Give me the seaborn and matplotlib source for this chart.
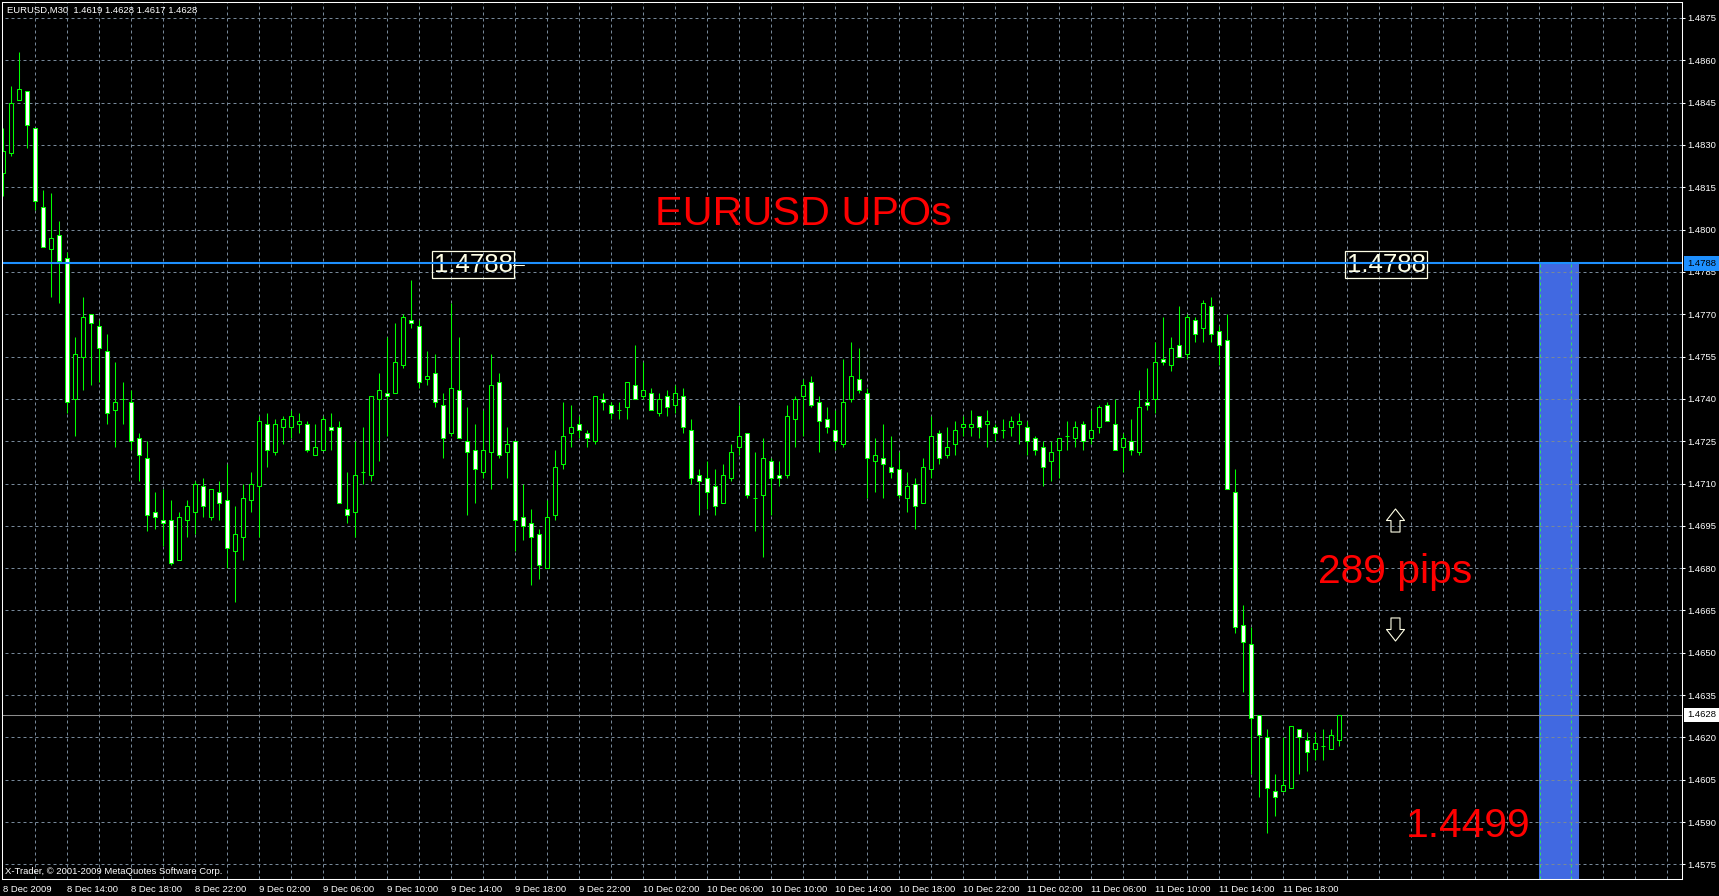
import matplotlib
matplotlib.use("Agg")
import matplotlib.pyplot as plt
import matplotlib.transforms as mtransforms
from matplotlib.path import Path
from matplotlib.patches import Rectangle
import numpy as np
import pandas as pd
import seaborn as sns

# EURUSD M30 candles, 8 Dec 2009 10:00 -> 11 Dec 2009 21:30
opens = [1.4820, 1.4827, 1.4846, 1.4849, 1.4836, 1.4808, 1.4793, 1.4798, 1.4790, 1.4740,
         1.4755, 1.4770, 1.4766, 1.4757, 1.4736, 1.4740, 1.4739, 1.4726, 1.4719, 1.4700,
         1.4697, 1.4697, 1.4683, 1.4697, 1.4700, 1.4709, 1.4698, 1.4707, 1.4704, 1.4686,
         1.4691, 1.4704, 1.4709, 1.4731, 1.4721, 1.4730, 1.4730, 1.4731, 1.4731, 1.4720,
         1.4722, 1.4730, 1.4730, 1.4701, 1.4700, 1.4714, 1.4713, 1.4740, 1.4742, 1.4742,
         1.4752, 1.4768, 1.4766, 1.4747, 1.4749, 1.4738, 1.4728, 1.4743, 1.4725, 1.4722,
         1.4714, 1.4721, 1.4746, 1.4721, 1.4725, 1.4698, 1.4696, 1.4692, 1.4680, 1.4699,
         1.4717, 1.4728, 1.4731, 1.4728, 1.4725, 1.4740, 1.4738, 1.4736, 1.4737, 1.4745,
         1.4741, 1.4742, 1.4735, 1.4741, 1.4738, 1.4741, 1.4729, 1.4713, 1.4712, 1.4709,
         1.4703, 1.4712, 1.4723, 1.4728, 1.4705, 1.4706, 1.4718, 1.4713, 1.4713, 1.4733,
         1.4741, 1.4746, 1.4739, 1.4733, 1.4729, 1.4724, 1.4740, 1.4747, 1.4742, 1.4718,
         1.4719, 1.4716, 1.4715, 1.4705, 1.4710, 1.4703, 1.4715, 1.4728, 1.4720, 1.4724,
         1.4730, 1.4730, 1.4734, 1.4731, 1.4730, 1.4729, 1.4730, 1.4731, 1.4730, 1.4726,
         1.4723, 1.4718, 1.4722, 1.4727, 1.4726, 1.4731, 1.4726, 1.4730, 1.4738, 1.4731,
         1.4723, 1.4725, 1.4721, 1.4739, 1.4740, 1.4754, 1.4752, 1.4759, 1.4756, 1.4768,
         1.4765, 1.4773, 1.4764, 1.4761, 1.4707, 1.4660, 1.4653, 1.4628, 1.4620, 1.4601,
         1.4601, 1.4602, 1.4623, 1.4619, 1.4616, 1.4617, 1.4616, 1.4619]
highs = [1.4836, 1.4851, 1.4863, 1.4849, 1.4836, 1.4814, 1.4813, 1.4803, 1.4792, 1.4762,
         1.4776, 1.4770, 1.4768, 1.4763, 1.4753, 1.4746, 1.4743, 1.4728, 1.4725, 1.4707,
         1.4708, 1.4704, 1.4700, 1.4704, 1.4711, 1.4712, 1.4708, 1.4711, 1.4717, 1.4702,
         1.4710, 1.4714, 1.4734, 1.4735, 1.4733, 1.4734, 1.4736, 1.4735, 1.4732, 1.4731,
         1.4734, 1.4735, 1.4732, 1.4714, 1.4725, 1.4730, 1.4741, 1.4749, 1.4762, 1.4767,
         1.4770, 1.4782, 1.4768, 1.4757, 1.4756, 1.4742, 1.4774, 1.4762, 1.4737, 1.4731,
         1.4736, 1.4756, 1.4749, 1.4730, 1.4725, 1.4710, 1.4701, 1.4694, 1.4704, 1.4722,
         1.4739, 1.4738, 1.4734, 1.4729, 1.4741, 1.4742, 1.4739, 1.4739, 1.4746, 1.4759,
         1.4753, 1.4744, 1.4742, 1.4743, 1.4745, 1.4744, 1.4733, 1.4715, 1.4718, 1.4715,
         1.4717, 1.4724, 1.4738, 1.4728, 1.4721, 1.4726, 1.4719, 1.4718, 1.4738, 1.4741,
         1.4747, 1.4748, 1.4741, 1.4737, 1.4736, 1.4754, 1.4760, 1.4758, 1.4744, 1.4726,
         1.4731, 1.4727, 1.4721, 1.4714, 1.4712, 1.4719, 1.4734, 1.4729, 1.4730, 1.4732,
         1.4734, 1.4736, 1.4734, 1.4736, 1.4731, 1.4733, 1.4734, 1.4735, 1.4732, 1.4727,
         1.4725, 1.4725, 1.4726, 1.4732, 1.4732, 1.4732, 1.4736, 1.4738, 1.4739, 1.4740,
         1.4728, 1.4733, 1.4743, 1.4751, 1.4760, 1.4769, 1.4762, 1.4773, 1.4770, 1.4769,
         1.4775, 1.4776, 1.4766, 1.4770, 1.4715, 1.4667, 1.4659, 1.4628, 1.4623, 1.4607,
         1.4620, 1.4624, 1.4623, 1.4622, 1.4622, 1.4623, 1.4623, 1.4628]
lows = [1.4812, 1.4826, 1.4846, 1.4829, 1.4807, 1.4794, 1.4776, 1.4774, 1.4735, 1.4727,
        1.4743, 1.4745, 1.4746, 1.4731, 1.4723, 1.4731, 1.4722, 1.4711, 1.4693, 1.4694,
        1.4688, 1.4681, 1.4683, 1.4691, 1.4692, 1.4698, 1.4697, 1.4697, 1.4680, 1.4668,
        1.4683, 1.4700, 1.4691, 1.4716, 1.4720, 1.4724, 1.4726, 1.4728, 1.4721, 1.4720,
        1.4722, 1.4722, 1.4703, 1.4696, 1.4691, 1.4710, 1.4711, 1.4718, 1.4727, 1.4742,
        1.4751, 1.4765, 1.4744, 1.4745, 1.4737, 1.4719, 1.4727, 1.4726, 1.4699, 1.4703,
        1.4712, 1.4708, 1.4719, 1.4712, 1.4686, 1.4690, 1.4674, 1.4676, 1.4680, 1.4697,
        1.4715, 1.4723, 1.4726, 1.4723, 1.4724, 1.4736, 1.4733, 1.4733, 1.4733, 1.4740,
        1.4740, 1.4736, 1.4734, 1.4734, 1.4735, 1.4728, 1.4710, 1.4699, 1.4701, 1.4699,
        1.4703, 1.4711, 1.4720, 1.4705, 1.4693, 1.4684, 1.4699, 1.4709, 1.4712, 1.4723,
        1.4727, 1.4737, 1.4721, 1.4728, 1.4722, 1.4723, 1.4739, 1.4742, 1.4705, 1.4707,
        1.4705, 1.4712, 1.4705, 1.4700, 1.4694, 1.4703, 1.4712, 1.4717, 1.4719, 1.4720,
        1.4727, 1.4727, 1.4726, 1.4723, 1.4725, 1.4726, 1.4727, 1.4724, 1.4720, 1.4720,
        1.4709, 1.4711, 1.4712, 1.4722, 1.4723, 1.4722, 1.4724, 1.4728, 1.4732, 1.4722,
        1.4714, 1.4720, 1.4720, 1.4736, 1.4735, 1.4752, 1.4750, 1.4755, 1.4754, 1.4760,
        1.4760, 1.4760, 1.4752, 1.4708, 1.4657, 1.4636, 1.4607, 1.4599, 1.4586, 1.4592,
        1.4601, 1.4602, 1.4607, 1.4608, 1.4612, 1.4612, 1.4616, 1.4617]
closes = [1.4828, 1.4845, 1.4850, 1.4837, 1.4810, 1.4794, 1.4797, 1.4789, 1.4739, 1.4756,
          1.4769, 1.4767, 1.4758, 1.4735, 1.4739, 1.4740, 1.4725, 1.4720, 1.4699, 1.4698,
          1.4696, 1.4682, 1.4698, 1.4702, 1.4710, 1.4702, 1.4708, 1.4703, 1.4687, 1.4692,
          1.4705, 1.4710, 1.4732, 1.4722, 1.4731, 1.4733, 1.4734, 1.4732, 1.4722, 1.4723,
          1.4733, 1.4729, 1.4703, 1.4699, 1.4713, 1.4714, 1.4741, 1.4743, 1.4741, 1.4753,
          1.4769, 1.4767, 1.4746, 1.4748, 1.4739, 1.4726, 1.4744, 1.4726, 1.4721, 1.4715,
          1.4722, 1.4745, 1.4720, 1.4724, 1.4697, 1.4695, 1.4691, 1.4681, 1.4698, 1.4716,
          1.4727, 1.4730, 1.4729, 1.4726, 1.4741, 1.4739, 1.4735, 1.4736, 1.4746, 1.4740,
          1.4743, 1.4736, 1.4740, 1.4737, 1.4742, 1.4730, 1.4712, 1.4711, 1.4707, 1.4702,
          1.4713, 1.4721, 1.4727, 1.4706, 1.4705, 1.4719, 1.4712, 1.4712, 1.4734, 1.4740,
          1.4745, 1.4738, 1.4732, 1.4730, 1.4725, 1.4739, 1.4748, 1.4743, 1.4719, 1.4720,
          1.4717, 1.4714, 1.4706, 1.4709, 1.4702, 1.4716, 1.4727, 1.4719, 1.4723, 1.4729,
          1.4731, 1.4731, 1.4730, 1.4732, 1.4728, 1.4729, 1.4732, 1.4732, 1.4725, 1.4722,
          1.4716, 1.4721, 1.4726, 1.4727, 1.4730, 1.4725, 1.4729, 1.4737, 1.4732, 1.4722,
          1.4726, 1.4722, 1.4737, 1.4738, 1.4753, 1.4753, 1.4758, 1.4755, 1.4769, 1.4763,
          1.4774, 1.4763, 1.4759, 1.4708, 1.4659, 1.4654, 1.4627, 1.4621, 1.4602, 1.4599,
          1.4603, 1.4624, 1.4620, 1.4615, 1.4618, 1.4617, 1.4621, 1.4628]

time_labels = ["8 Dec 2009", "8 Dec 14:00", "8 Dec 18:00", "8 Dec 22:00",
               "9 Dec 02:00", "9 Dec 06:00", "9 Dec 10:00", "9 Dec 14:00", "9 Dec 18:00", "9 Dec 22:00",
               "10 Dec 02:00", "10 Dec 06:00", "10 Dec 10:00", "10 Dec 14:00", "10 Dec 18:00", "10 Dec 22:00",
               "11 Dec 02:00", "11 Dec 06:00", "11 Dec 10:00", "11 Dec 14:00", "11 Dec 18:00"]
price_ticks = [1.4575, 1.4590, 1.4605, 1.4620, 1.4635, 1.4650, 1.4665, 1.4680, 1.4695, 1.4710,
               1.4725, 1.4740, 1.4755, 1.4770, 1.4785, 1.4800, 1.4815, 1.4830, 1.4845, 1.4860, 1.4875]

upo_level = 1.4788
target_level = 1.4499
pips = 289
header = "EURUSD,M30  1.4619 1.4628 1.4617 1.4628"
copyright_txt = "X-Trader, \u00a9 2001-2009 MetaQuotes Software Corp."

LIME = "#00FF00"
GRID = "#778899"
CREAM = "#FFFFE6"
DODGER = "#1E90FF"

sns.set_theme(style="dark", rc={"axes.facecolor": "black", "figure.facecolor": "black",
                                "axes.edgecolor": "white", "text.color": "white",
                                "xtick.color": "white", "ytick.color": "white"})
plt.rcParams["font.family"] = ["Liberation Sans", "DejaVu Sans"]

df = pd.DataFrame({"open": opens, "high": highs, "low": lows, "close": closes})
df["bar"] = np.arange(len(df))
bull = df["close"] >= df["open"]

fig = plt.figure(figsize=(17.19, 8.96), dpi=100)
ax = fig.add_axes([2.3 / 1719, 1 - 879.3 / 896, 1679.4 / 1719, 877.0 / 896])
ax.set_xlim(-0.0875, 209.84)
ax.set_ylim(1.456972, 1.488056)

# grid
ax.vlines(np.arange(4, 210, 4), 1.455, 1.49, colors=GRID, linewidth=0.72,
          linestyles=(0, (3, 3)), zorder=1)
ax.hlines(price_ticks, -1, 211, colors=GRID, linewidth=0.72, linestyles=(0, (3, 3)), zorder=1)

# target zone
ax.add_patch(Rectangle((192, target_level), 5, upo_level - target_level,
                       facecolor="#4169E1", edgecolor="none", zorder=1.5))
ax.vlines([192.1, 196], target_level, upo_level, colors="#33DD66", linewidth=0.72,
          linestyles=(0, (3, 3)), zorder=1.6)
ax.hlines([p for p in price_ticks if p < upo_level], 192, 197, colors=GRID, linewidth=0.72,
          linestyles=(0, (3, 3)), zorder=1.6)

# candles
ax.vlines(df["bar"], df["low"], df["high"], colors=LIME, linewidth=0.75, zorder=3)
body_lo = np.minimum(df["open"], df["close"])
body_h = np.maximum(np.abs(df["close"] - df["open"]), 0.000001)
ax.bar(df["bar"], body_h, bottom=body_lo, width=0.5,
       color=np.where(bull, "black", "white"), edgecolor=LIME, linewidth=0.75, zorder=4)

# levels
ax.axhline(df["close"].iloc[-1], color="#8C8C8C", linewidth=0.75, zorder=2)
ax.axhline(upo_level, color=DODGER, linewidth=1.5, zorder=6)
ax.plot([63.75, 65.1], [upo_level - 0.00006] * 2, color=CREAM, linewidth=0.75, zorder=5)

for xb in (58.8, 172.9):
    ax.text(xb, upo_level - 0.00005, f"{upo_level:.4f}", ha="center", va="center",
            fontsize=18.5, color=CREAM, zorder=5,
            bbox=dict(boxstyle="square,pad=0.06", facecolor="none", edgecolor=CREAM, linewidth=0.9))

ax.text(100.0, 1.48017, "EURUSD UPOs", ha="center", va="baseline", fontsize=29.8, color="red", zorder=7)
ax.text(174.0, 1.46746, f"{pips} pips", ha="center", va="baseline", fontsize=29.3, color="red", zorder=7)
ax.text(183.1, 1.458485, f"{target_level:.4f}", ha="center", va="baseline", fontsize=29.3, color="red", zorder=7)

up = Path([(0, 11.5), (9, 0), (4.5, 0), (4.5, -11.5), (-4.5, -11.5), (-4.5, 0), (-9, 0), (0, 0)], closed=True)
down = Path([(0, -11.5), (9, 0), (4.5, 0), (4.5, 11.5), (-4.5, 11.5), (-4.5, 0), (-9, 0), (0, 0)], closed=True)
ax.plot([173.97], [1.469717], marker=up, markersize=16.6, mfc="none", mec=CREAM, mew=0.8, ls="none", zorder=7)
ax.plot([174.06], [1.465826], marker=down, markersize=16.6, mfc="none", mec=CREAM, mew=0.8, ls="none", zorder=7)

# axes
for s in ax.spines.values():
    s.set_color("white")
    s.set_linewidth(0.75)
    s.set_zorder(8)
ax.yaxis.tick_right()
ax.set_yticks(price_ticks)
ax.set_yticklabels([f"{p:.4f}" for p in price_ticks])
ax.set_xticks(np.arange(0, 161, 8))
ax.set_xticklabels(time_labels)
ax.tick_params(axis="both", direction="out", length=2.5, width=0.75, colors="white",
               labelsize=6.8, pad=1.5)
plt.setp(ax.get_xticklabels(), ha="left")
ax.grid(False)

trans = mtransforms.blended_transform_factory(ax.transAxes, ax.transData)
ax.text(1.0032, upo_level, f"{upo_level:.4f}", transform=trans, ha="left", va="center",
        fontsize=6.8, color="black", clip_on=False, zorder=9,
        bbox=dict(boxstyle="square,pad=0.3", facecolor=DODGER, edgecolor="none"))
ax.text(1.0032, df["close"].iloc[-1], f"{df['close'].iloc[-1]:.4f}", transform=trans, ha="left",
        va="center", fontsize=6.8, color="black", clip_on=False, zorder=9,
        bbox=dict(boxstyle="square,pad=0.3", facecolor="white", edgecolor="none"))

fig.text(6.7 / 1719, 1 - 10.3 / 896, header, ha="left", va="center", fontsize=6.8, color="white")
fig.text(4.6 / 1719, 1 - 871 / 896, copyright_txt, ha="left", va="center", fontsize=6.8, color="white")

fig.savefig("out.png", dpi=100, facecolor="black")
